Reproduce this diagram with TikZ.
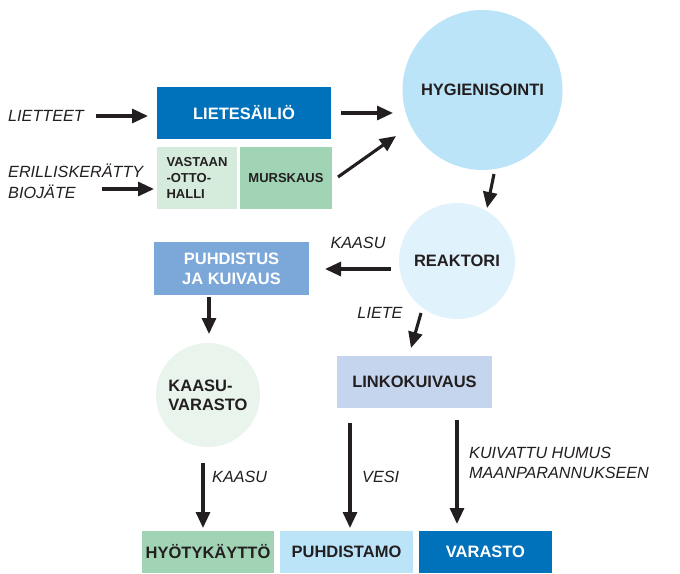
\documentclass[tikz,border=0pt]{standalone}
\usepackage{fontspec}
\setmainfont{Liberation Sans}
\usetikzlibrary{arrows.meta}
\definecolor{dblue}{HTML}{0072BC}
\definecolor{mblue}{HTML}{7BA7D9}
\definecolor{lblue}{HTML}{C5D5EE}
\definecolor{sky}{HTML}{BBE4F8}
\definecolor{palesky}{HTML}{E0F2FC}
\definecolor{mgreen}{HTML}{A0D4B4}
\definecolor{lgreen}{HTML}{D5ECDD}
\definecolor{palegreen}{HTML}{E8F4EC}
\definecolor{ink}{HTML}{231F20}
\tikzset{
  box/.style={rectangle, inner sep=0pt, text=ink, font=\bfseries\fontsize{16.5}{20}\selectfont, align=center},
  smallbox/.style={box, font=\bfseries\fontsize{13}{16}\selectfont},
  circ/.style={circle, inner sep=0pt, text=ink, font=\bfseries\fontsize{16.5}{19}\selectfont, align=center},
  lbl/.style={inner sep=0pt, text=ink, font=\itshape\fontsize{16.2}{20.5}\selectfont, align=left},
  flow/.style={draw=ink, line width=3.1pt, -{Triangle[length=16pt,width=14pt]}},
}
\begin{document}
\begin{tikzpicture}[x=1pt,y=-1pt]
\useasboundingbox[fill=white] (0,0) rectangle (680,573);
% boxes
\node[box, fill=dblue, text=white, minimum width=174pt, minimum height=52pt] (lietesailio) at (244,113) {LIETES\"AILI\"O};
\node[smallbox, fill=lgreen, minimum width=80pt, minimum height=62pt, align=left] (vastaanotto) at (197,178) {VASTAAN\\-OTTO-\\HALLI};
\node[smallbox, fill=mgreen, minimum width=92pt, minimum height=62pt] (murskaus) at (286,178) {MURSKAUS};
\node[box, fill=mblue, text=white, minimum width=155pt, minimum height=53pt] (puhdistus) at (231.5,268.5) {PUHDISTUS\\JA KUIVAUS};
\node[box, fill=lblue, minimum width=155pt, minimum height=52pt] (linko) at (414.5,382) {LINKOKUIVAUS};
\node[box, fill=mgreen, minimum width=132pt, minimum height=42pt] (hyoty) at (208,552) {HY\"OTYK\"AYTT\"O};
\node[box, fill=sky, minimum width=133pt, minimum height=42pt] (puhdistamo) at (346.5,552) {PUHDISTAMO};
\node[box, fill=dblue, text=white, minimum width=133pt, minimum height=42pt] (varasto) at (485.5,552) {VARASTO};
% circles
\node[circ, fill=sky, minimum size=160pt] (hyg) at (482.5,90) {HYGIENISOINTI};
\node[circ, fill=palesky, minimum size=116pt] (reaktori) at (457,261) {REAKTORI};
\node[circ, fill=palegreen, minimum size=104pt, align=left] (kvarasto) at (208,395) {KAASU-\\VARASTO};
% labels
\node[lbl, anchor=west] (liettet) at (8,116) {LIETTEET};
\node[lbl, anchor=west] (bio) at (8,181.5) {ERILLISKER\"ATTY\\BIOJ\"ATE};
\node[lbl] (kaasu1) at (358,243) {KAASU};
\node[lbl] (liete) at (380,313) {LIETE};
\node[lbl, anchor=west] (kaasu2) at (212,477) {KAASU};
\node[lbl, anchor=west] (vesi) at (362,477) {VESI};
\node[lbl, anchor=west] (humus) at (469,463) {KUIVATTU HUMUS\\MAANPARANNUKSEEN};
% arrow end points
\coordinate (a1s) at (96,116);  \coordinate (a1e) at (148,116);
\coordinate (a2s) at (102,189); \coordinate (a2e) at (154,189);
\coordinate (a3s) at (341,113); \coordinate (a3e) at (393,113);
\coordinate (a4s) at (338,177); \coordinate (a4e) at (396,136);
\coordinate (a5s) at (494,174); \coordinate (a5e) at (487,208);
\coordinate (a6s) at (391,269); \coordinate (a6e) at (325,269);
\coordinate (a7s) at (209,297); \coordinate (a7e) at (209,334);
\coordinate (a8s) at (421,313); \coordinate (a8e) at (411,348);
\coordinate (a9s) at (203,463); \coordinate (a9e) at (203,528);
\coordinate (a10s) at (350,423); \coordinate (a10e) at (350,528);
\coordinate (a11s) at (457,420); \coordinate (a11e) at (457,524);
\foreach \i in {1,...,11} {\draw[flow] (a\i s) -- (a\i e);}
\end{tikzpicture}
\end{document}
